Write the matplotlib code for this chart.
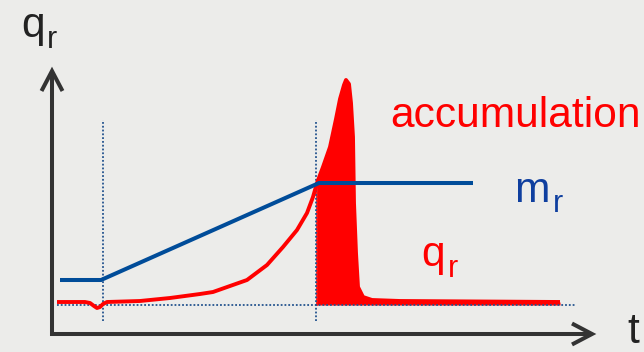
import numpy as np
import matplotlib
matplotlib.use("Agg")
import matplotlib.pyplot as plt

# ---- data (chart units: t to the right, q upward, origin at axis corner) ----
qr_t = [5, 33, 38, 42, 45, 48, 51, 55, 88, 118,
        148, 161, 195, 215, 231, 245, 255, 261, 265, 271,
        278, 284, 288, 292, 294, 297, 299, 301, 302, 304, 306,
        311, 320, 348, 508]
qr_q = [32, 32, 31, 28, 26, 27, 30, 32, 33, 36,
        40, 42, 54, 69, 87, 104, 121, 137, 151, 167,
        187, 215, 235, 249, 254, 250, 231, 197, 131, 81, 47,
        37, 34, 33, 32]

mr_t = [8, 49, 267, 421]
mr_q = [54, 54, 151, 151]

baseline_q = 29           # dotted base line level
baseline_t = [5, 524]
event_t = [51, 264]       # dotted vertical markers
event_q = [13, 214]
accum_start = 264

BG = "#ececea"
RED = "#ff0000"
BLUE_LINE = "#004c99"
BLUE_TEXT = "#0f3f9f"
DOT = "#24548f"
AXC = "#333333"

fig = plt.figure(figsize=(6.44, 3.52), dpi=100, facecolor=BG)
ax = fig.add_axes([0, 0, 1, 1])
ax.set_facecolor(BG)
ax.set_xlim(-52, 592)
ax.set_ylim(334 - 352, 334)
ax.axis("off")

t = np.array(qr_t, dtype=float)
q = np.array(qr_q, dtype=float)

# accumulation area
mask = t >= accum_start
ax.fill_between(t, q, baseline_q, where=mask, color=RED, lw=0, zorder=2)
ax.plot([accum_start + 1, accum_start + 1], [baseline_q, np.interp(accum_start + 1, t, q)],
        color=RED, lw=1.2, zorder=2)

# dotted helper lines
dot_style = dict(color=DOT, lw=1.3, linestyle=(0, (1, 1.1)), zorder=3)
ax.plot(baseline_t, [baseline_q, baseline_q], **dot_style)
for et in event_t:
    ax.plot([et, et], event_q, **dot_style)

# curves
ax.plot(t, q, color=RED, lw=2.8, solid_joinstyle="round", solid_capstyle="butt", zorder=4)
ax.plot(mr_t, mr_q, color=BLUE_LINE, lw=2.9, solid_joinstyle="miter", solid_capstyle="butt", zorder=5)

# axes with open arrowheads
axis_style = dict(color=AXC, lw=2.9, solid_capstyle="butt", solid_joinstyle="miter", zorder=6)
ax.plot([0, 0], [-2, 262], **axis_style)
ax.plot([-2, 539], [0, 0], **axis_style)
ax.plot([-10.5, 0, 10.5], [243, 263, 243], **axis_style)
ax.plot([520, 540, 520], [10.5, 0, -10.5], **axis_style)

FONT = "Liberation Sans"
big = 30.6
small = 22
ax.text(-30.5, 297, "q", fontsize=big, color="#222222", family=FONT, ha="left", va="baseline")
ax.text(-5, 286, "r", fontsize=small, color="#222222", family=FONT, ha="left", va="baseline")
ax.text(575, -9, "t", fontsize=big, color="#222222", family=FONT, ha="left", va="baseline")

ax.text(338.5, 207, "accumulation", fontsize=big, color=RED, family=FONT, ha="left", va="baseline")
ax.text(462, 132, "m", fontsize=big, color=BLUE_TEXT, family=FONT, ha="left", va="baseline")
ax.text(501, 122, "r", fontsize=small, color=BLUE_TEXT, family=FONT, ha="left", va="baseline")
ax.text(369.5, 68, "q", fontsize=big, color=RED, family=FONT, ha="left", va="baseline")
ax.text(396, 57, "r", fontsize=small, color=RED, family=FONT, ha="left", va="baseline")

fig.savefig("out.png", dpi=100, facecolor=BG)
